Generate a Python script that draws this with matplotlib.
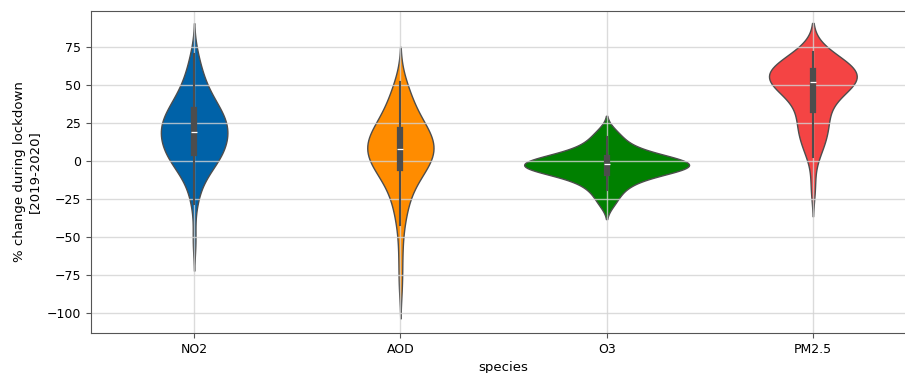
import numpy as np
import pandas as pd
import seaborn as sns
from matplotlib import pyplot as plt
from matplotlib.collections import PolyCollection

# Hand-read observations (% change during lockdown) for each species
species = ["NO2", "AOD", "O3", "PM2.5"]
colors = ["#0062a8", "#ff8c00", "#008000", "#f44444"]

no2 = [-52, -28, -20, -15, -11, -8, -6, -4, -2, -1, 0, 1, 2, 3, 4, 5, 6, 7,
       8, 9, 10, 11, 12, 13, 14, 15, 16, 17, 18, 18, 19, 20, 21, 22, 22, 23,
       24, 25, 26, 27, 28, 29, 30, 31, 32, 33, 34, 35, 36, 37, 38, 40, 42, 44,
       46, 48, 50, 53, 56, 60, 65, 71]
aod = [-80, -60, -42, -35, -29, -24, -20, -17, -14, -11, -9, -7, -5, -4, -3,
       -2, -1, 0, 1, 2, 3, 4, 5, 6, 7, 8, 9, 10, 11, 12, 13, 14, 15, 16, 17,
       18, 19, 20, 21, 22, 24, 26, 28, 30, 32, 35, 38, 41, 44, 48, 52]
o3 = [-28, -23, -19, -16, -14, -12, -10, -9, -8, -7, -6, -5, -5, -4, -4, -3,
      -3, -2, -2, -2, -1, -1, 0, 0, 1, 2, 3, 4, 5, 6, 8, 10, 13, 16, 20]
pm25 = [-17, 3, 8, 12, 15, 18, 20, 24, 26, 28, 30, 35, 38, 40, 42, 44, 46, 48,
        49, 50, 51, 52, 53, 53, 54, 54, 55, 55, 56, 56, 57, 58, 59, 60, 61, 62,
        63, 64, 65, 66, 67, 68, 70, 72]

frames = []
for name, vals in zip(species, [no2, aod, o3, pm25]):
    frames.append(pd.DataFrame({"species": name, "change": vals}))
df = pd.concat(frames, ignore_index=True)

fig = plt.figure(figsize=(9.05, 3.73), dpi=100)
# axes runs a bit past the right edge, as in the cropped original
ax = fig.add_axes([91 / 905, 40 / 373, 825 / 905, 322 / 373])

# no hue, so all violins share one area normalisation
sns.violinplot(data=df, x="species", y="change", color=colors[0],
               saturation=1, density_norm="area", linewidth=1,
               linecolor="0.3", ax=ax)
polys = [c for c in ax.collections if isinstance(c, PolyCollection)]
for poly, c in zip(polys, colors):
    poly.set_facecolor(c)

ax.set_xlim(-0.5, 3.5)
ax.set_ylim(-113, 99)
ax.set_yticks([-100, -75, -50, -25, 0, 25, 50, 75])
ax.grid(True, color="lightgrey", alpha=0.8, linewidth=1)
ax.tick_params(labelsize=9, color="#555555")
for s in ax.spines.values():
    s.set_color("#555555")

ax.set_xlabel("species", fontsize=9.5)
ax.set_ylabel("% change during lockdown\n[2019-2020]", fontsize=9.5)

fig.savefig("out.png")
